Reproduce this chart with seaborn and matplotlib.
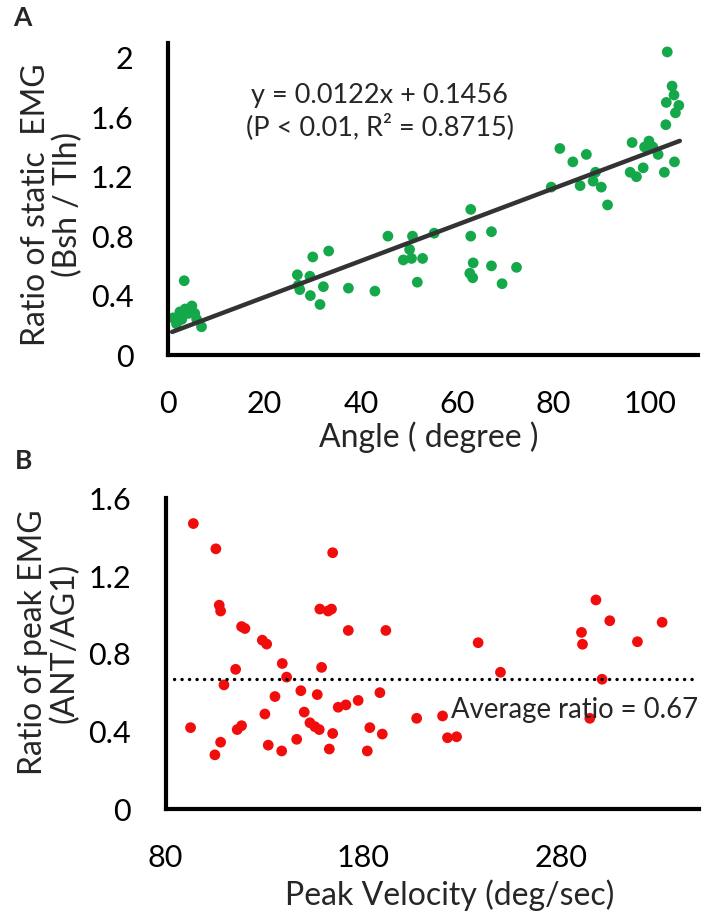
import numpy as np
import pandas as pd
import matplotlib
matplotlib.use("Agg")
import matplotlib.pyplot as plt
import seaborn as sns

# ---- panel A: static EMG ratio vs angle ----
angle = [3.3, 1.0, 1.7, 3.5, 4.9, 4.2, 2.8, 5.5, 5.9, 6.9, 2.4,
         26.8, 27.0, 27.3, 29.4, 30.0, 33.3, 32.2, 29.5, 31.5, 37.4, 42.9,
         45.6, 50.7, 55.2, 50.1, 48.8, 50.5, 52.8, 51.7,
         62.8, 62.8, 67.1, 63.3, 62.6, 63.2, 67.1, 69.3, 72.3,
         79.5, 81.3, 84.0, 86.8, 85.5, 88.7, 88.2, 89.9, 91.2,
         96.3, 95.9, 97.2, 98.6, 98.9, 99.8, 100.6, 101.7, 103.0, 105.1,
         103.3, 103.4, 104.6, 105.0, 106.0, 105.3, 103.6]
static_ratio = [0.50, 0.25, 0.21, 0.31, 0.33, 0.28, 0.24, 0.28, 0.24, 0.19, 0.29,
                0.54, 0.47, 0.44, 0.53, 0.66, 0.70, 0.46, 0.40, 0.34, 0.45, 0.43,
                0.80, 0.80, 0.82, 0.71, 0.64, 0.65, 0.65, 0.49,
                0.98, 0.80, 0.83, 0.62, 0.55, 0.52, 0.60, 0.48, 0.59,
                1.13, 1.39, 1.30, 1.35, 1.14, 1.23, 1.17, 1.13, 1.01,
                1.43, 1.23, 1.20, 1.26, 1.40, 1.44, 1.40, 1.35, 1.23, 1.30,
                1.55, 1.70, 1.81, 1.75, 1.68, 1.63, 2.04]
fit_slope = 0.0122
fit_intercept = 0.1456
fit_range = [0.8, 106.2]

# ---- panel B: peak EMG ratio vs peak velocity ----
velocity = [94.0, 105.4, 107.1, 107.8, 118.4, 120.1, 128.9, 131.1, 115.4, 109.5,
            92.6, 104.9, 107.8, 116.2, 118.4, 130.2, 131.9, 138.7, 139.0, 141.2,
            135.3, 148.4, 150.1, 146.3, 153.0, 155.5, 157.7, 156.7, 158.9, 158.0,
            162.2, 163.9, 164.5, 164.5, 162.8, 167.3, 171.2, 172.4, 177.4,
            191.4, 188.4, 183.3, 189.6, 182.0, 207.0, 220.1, 222.6, 227.2,
            238.1, 249.4, 290.4, 290.9, 297.7, 304.7, 300.8, 294.6, 318.7, 331.2]
peak_ratio = [1.47, 1.34, 1.05, 1.02, 0.94, 0.93, 0.87, 0.85, 0.72, 0.64,
              0.42, 0.28, 0.345, 0.41, 0.43, 0.49, 0.33, 0.30, 0.75, 0.68,
              0.58, 0.61, 0.50, 0.36, 0.445, 0.425, 0.41, 0.59, 0.73, 1.03,
              1.02, 1.03, 1.32, 0.39, 0.31, 0.525, 0.537, 0.92, 0.56,
              0.92, 0.60, 0.42, 0.387, 0.30, 0.468, 0.48, 0.368, 0.373,
              0.857, 0.705, 0.91, 0.849, 1.077, 0.97, 0.669, 0.468, 0.862, 0.962]
avg_ratio = 0.67
avg_range = [84, 350]

df_a = pd.DataFrame({"angle": angle, "ratio": static_ratio})
df_b = pd.DataFrame({"velocity": velocity, "ratio": peak_ratio})
fit_x = np.array(fit_range)
df_fit = pd.DataFrame({"x": fit_x, "y": fit_slope * fit_x + fit_intercept})
df_avg = pd.DataFrame({"x": avg_range, "y": [avg_ratio, avg_ratio]})

sns.set_style("white")
plt.rcParams['font.family'] = ['Lato', 'DejaVu Sans']

fig = plt.figure(figsize=(7.08, 9.19), dpi=100)
ax_a = fig.add_axes([0.2377, 0.6137, 0.7483, 0.3395])
ax_b = fig.add_axes([0.234, 0.1194, 0.7537, 0.3384])

sns.scatterplot(data=df_a, x="angle", y="ratio", ax=ax_a, color="#14a84a",
                s=60, edgecolor="none", zorder=2, clip_on=False)
sns.lineplot(data=df_fit, x="x", y="y", ax=ax_a, color="#333333", lw=3.2, zorder=3)

sns.scatterplot(data=df_b, x="velocity", y="ratio", ax=ax_b, color="#f20d0d",
                s=60, edgecolor="none", zorder=2, clip_on=False)
sns.lineplot(data=df_avg, x="x", y="y", ax=ax_b, color="black", lw=2.4,
             linestyle=(0, (0.05, 2.2)), zorder=3)
ax_b.lines[-1].set_dash_capstyle("round")

ax_a.set_xlim(0, 110)
ax_a.set_ylim(0, 2.1)
ax_a.set_xticks([0, 20, 40, 60, 80, 100])
ax_a.set_yticks([0, 0.4, 0.8, 1.2, 1.6, 2])
ax_a.set_yticklabels(["0", "0.4", "0.8", "1.2", "1.6", "2"])

ax_b.set_xlim(80, 350)
ax_b.set_ylim(0, 1.6)
ax_b.set_xticks([80, 180, 280])
ax_b.set_yticks([0, 0.4, 0.8, 1.2, 1.6])
ax_b.set_yticklabels(["0", "0.4", "0.8", "1.2", "1.6"])

for ax in (ax_a, ax_b):
    sns.despine(ax=ax)
    for side in ("left", "bottom"):
        ax.spines[side].set_linewidth(3)
        ax.spines[side].set_color("black")
    ax.tick_params(direction="in", length=9, width=3, labelsize=22, pad=25,
                   colors="black")

ax_a.set_xlabel("Angle ( degree )", fontsize=23)
ax_a.xaxis.set_label_coords(0.492, -0.212)
ax_a.set_ylabel("Ratio of static  EMG\n(Bsh / Tlh)", fontsize=23, linespacing=1.05)
ax_a.yaxis.set_label_coords(-0.161, 0.481)

ax_b.set_xlabel("Peak Velocity (deg/sec)", fontsize=23)
ax_b.xaxis.set_label_coords(0.533, -0.227)
ax_b.set_ylabel("Ratio of peak EMG\n(ANT/AG1)", fontsize=23, linespacing=1.05)
ax_b.yaxis.set_label_coords(-0.161, 0.536)

ax_a.text(43.9, 1.64, "y = 0.0122x + 0.1456\n(P < 0.01, R² = 0.8715)",
          fontsize=19.5, ha="center", va="center", linespacing=1.25)
ax_b.text(224.5, 0.51, "Average ratio = 0.67", fontsize=19.8,
          ha="left", va="center")

fig.text(0.018, 0.994, "A", fontsize=19, fontweight="bold", va="top", ha="left")
fig.text(0.021, 0.511, "B", fontsize=19, fontweight="bold", va="top", ha="left")

fig.savefig("out.png", dpi=100)
